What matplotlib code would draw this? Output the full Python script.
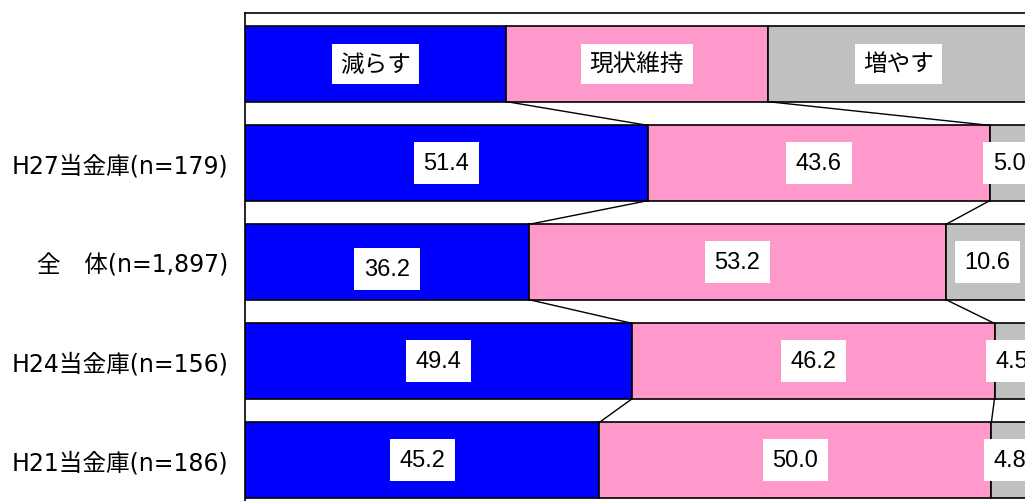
import matplotlib.pyplot as plt

plt.rcParams['font.family'] = ['DejaVu Sans', 'Noto Sans CJK JP']

# survey groups (top to bottom) and shares in percent
groups = ['H27当金庫(n=179)', '全\u3000体(n=1,897)', 'H24当金庫(n=156)', 'H21当金庫(n=186)']
decrease = [51.4, 36.2, 49.4, 45.2]
keep = [43.6, 53.2, 46.2, 50.0]
increase = [5.0, 10.6, 4.5, 4.8]

legend_labels = ['減らす', '現状維持', '増やす']
colors = ['#0000FF', '#FF99CC', '#C0C0C0']

fig = plt.figure(figsize=(10.25, 5.02), dpi=100)
ax = fig.add_axes([245 / 1025, -0.0367, 784 / 1025, 1.0088])

bar_h = 0.76
lbl_box = dict(facecolor='white', edgecolor='none', pad=7)
num_font = ['Liberation Sans', 'Noto Sans CJK JP']

# header row works as the legend: three equal parts
third = 100 / 3
for i, (lab, c) in enumerate(zip(legend_labels, colors)):
    ax.barh(0, third, left=i * third, height=bar_h, color=c,
            edgecolor='black', linewidth=1.2)
    ax.text(i * third + third / 2, 0, lab, ha='center', va='center',
            fontsize=17, family='Noto Sans CJK JP',
            bbox=dict(facecolor='white', edgecolor='none', pad=6))

rows = [(0, [third, 2 * third])]
for k in range(len(groups)):
    y = k + 1
    vals = [decrease[k], keep[k], increase[k]]
    left = 0
    bounds = []
    for v, c in zip(vals, colors):
        ax.barh(y, v, left=left, height=bar_h, color=c,
                edgecolor='black', linewidth=1.2)
        dy = 0.07 if (k == 1 and v == decrease[k]) else 0
        ax.text(left + v / 2, y + dy, f'{v:.1f}', ha='center', va='center',
                fontsize=17, family=num_font, bbox=lbl_box)
        left += v
        bounds.append(left)
    rows.append((y, bounds[:2]))

# connector lines between neighbouring rows
for (y0, b0), (y1, b1) in zip(rows[:-1], rows[1:]):
    for x0, x1 in zip(b0, b1):
        ax.plot([x0, x1], [y0 + bar_h / 2, y1 - bar_h / 2],
                color='black', linewidth=1.0)

ax.set_xlim(0, 100)
ax.set_ylim(4.6, -0.515)
ax.set_yticks(range(1, len(groups) + 1))
ax.set_yticklabels(groups, fontsize=17)
ax.tick_params(axis='y', length=0, pad=12)
ax.set_xticks([])
for s in ax.spines.values():
    s.set_linewidth(1.2)

fig.savefig('out.png', dpi=100)
